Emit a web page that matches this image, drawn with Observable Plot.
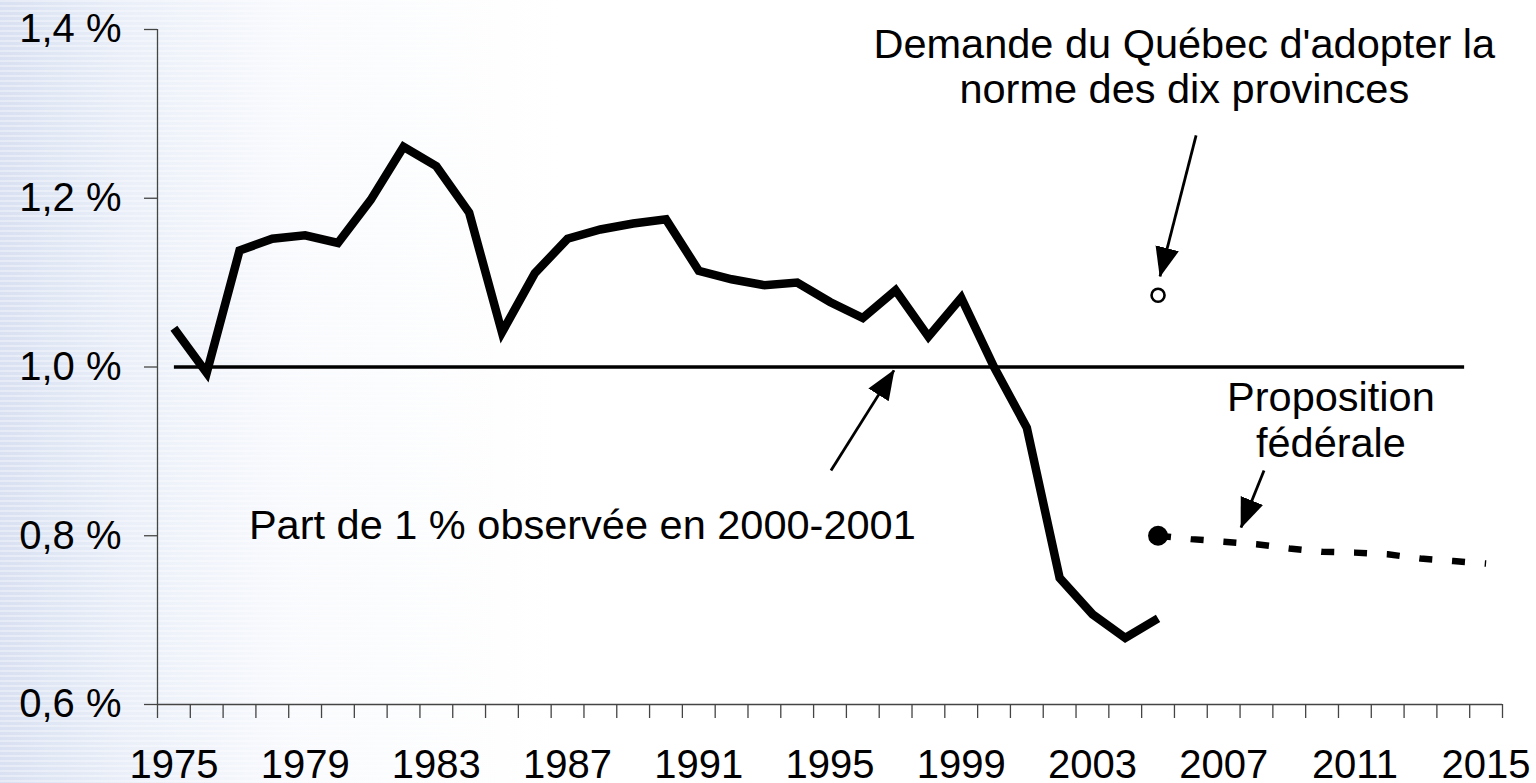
<!DOCTYPE html>
<html lang="fr">
<head>
<meta charset="utf-8">
<script src="https://cdn.jsdelivr.net/npm/d3@7"></script>
<script src="https://cdn.jsdelivr.net/npm/@observablehq/plot@0.6"></script>
<style>
  html, body { margin: 0; padding: 0; width: 1536px; height: 783px; overflow: hidden; }
  body {
    font-family: "Liberation Sans", Arial, sans-serif;
    background:
      repeating-linear-gradient(to bottom, rgba(255,255,255,0.35) 0px, rgba(255,255,255,0.35) 2px, rgba(255,255,255,0) 2px, rgba(255,255,255,0) 5px),
      linear-gradient(to right, rgba(212,221,240,0.9) 0px, rgba(226,233,246,0.75) 120px, rgba(242,245,251,0.45) 300px, rgba(255,255,255,0) 560px),
      linear-gradient(to bottom, #ffffff 0%, #ffffff 100%);
  }
  #chart svg { display: block; }
</style>
</head>
<body>
<div id="chart"></div>
<script>
// ---- Data ----
const years = d3.range(1975, 2006); // 1975..2005
const share = [1.046, 0.993, 1.138, 1.152, 1.156, 1.147, 1.198, 1.261, 1.238, 1.183,
               1.041, 1.111, 1.152, 1.163, 1.170, 1.175, 1.114, 1.104, 1.097, 1.100,
               1.077, 1.058, 1.091, 1.036, 1.082, 1.000, 0.928, 0.750, 0.707, 0.679,
               0.702];

const fedYears = d3.range(2005, 2016); // federal proposal projection
const fedShare = [0.800, 0.796, 0.793, 0.790, 0.785, 0.781, 0.780, 0.778, 0.773, 0.770, 0.767];

const quebecYear = [2005];
const quebecShare = [1.085];

const refYears = [1975, 2014.33];
const refShare = [1.0, 1.0];

const yTicks = [0.6, 0.8, 1.0, 1.2, 1.4];
const xLabelYears = [1975, 1979, 1983, 1987, 1991, 1995, 1999, 2003, 2007, 2011, 2015];

const noteTexts = ["Demande du Québec d'adopter la\nnorme des dix provinces", "Proposition\nfédérale", "Part de 1 % observée en 2000-2001"];
const noteX = [2005.8, 2010.27, 1987.45];
const noteY = [1.405, 0.986, 0.834];

const arrowX1 = [2006.16, 2008.23, 1995.03];
const arrowY1 = [1.2746, 0.8774, 0.8774];
const arrowX2 = [2005.06, 2007.53, 1996.95];
const arrowY2 = [1.1074, 0.8098, 0.996];

// ---- Tables built from the arrays ----
const mainData = years.map((y, i) => ({year: y, v: share[i]}));
const fedData = fedYears.map((y, i) => ({year: y, v: fedShare[i]}));
const quebecData = quebecYear.map((y, i) => ({year: y, v: quebecShare[i]}));
const refData = refYears.map((y, i) => ({year: y, v: refShare[i]}));
const notes = noteTexts.map((t, i) => ({t, x: noteX[i], y: noteY[i]}));
const arrows = arrowX1.map((x, i) => ({x1: x, y1: arrowY1[i], x2: arrowX2[i], y2: arrowY2[i]}));
const minorTicks = d3.range(1974.5, 2016, 1);

const fmt = v => v.toFixed(1).replace(".", ",") + " %";
const FONT = "'Liberation Sans', Arial, sans-serif";

const plot = Plot.plot({
  width: 1536,
  height: 783,
  marginLeft: 157,
  marginRight: 34,
  marginTop: 29,
  marginBottom: 79,
  style: {background: "transparent", fontFamily: FONT, color: "#000", overflow: "visible"},
  x: {type: "linear", domain: [1974.5, 2015.5]},
  y: {domain: [0.6, 1.4]},
  marks: [
    // axes lines
    Plot.ruleX([1974.5], {stroke: "#444", strokeWidth: 1.3}),
    Plot.ruleY([0.6], {stroke: "#444", strokeWidth: 1.3}),
    Plot.axisY({ticks: yTicks, tickFormat: fmt, tickSize: 13, tickPadding: 23, fontSize: 40, stroke: "#444", strokeWidth: 1.3, label: null}),
    Plot.axisX({ticks: minorTicks, tickFormat: () => "", tickSize: 14, stroke: "#444", strokeWidth: 1.3, label: null}),
    Plot.axisX({ticks: xLabelYears, tickFormat: d => String(d), tickSize: 0, tickPadding: 45, fontSize: 40, label: null}),
    // 1 % reference line
    Plot.line(refData, {x: "year", y: "v", stroke: "#000", strokeWidth: 3.5, strokeLinecap: "butt"}),
    // observed share
    Plot.line(mainData, {x: "year", y: "v", stroke: "#000", strokeWidth: 8.5, strokeLinejoin: "miter", strokeMiterlimit: 10, strokeLinecap: "butt"}),
    // federal proposal projection
    Plot.line(fedData, {x: "year", y: "v", stroke: "#000", strokeWidth: 6.5, strokeDasharray: "13,19.8", strokeLinecap: "butt"}),
    Plot.dot([fedData[0]], {x: "year", y: "v", r: 10, fill: "#000", stroke: "none"}),
    // Quebec demand
    Plot.dot(quebecData, {x: "year", y: "v", r: 6.5, fill: "#fff", stroke: "#000", strokeWidth: 2.6}),
    // annotation arrows
    Plot.link(arrows, {x1: "x1", y1: "y1", x2: "x2", y2: "y2", stroke: "#000", strokeWidth: 2.8, ariaLabel: "annot-arrow"}),
    // annotation texts
    Plot.text(notes, {x: "x", y: "y", text: "t", fontSize: 41.5, lineHeight: 1.1, lineAnchor: "top", textAnchor: "middle", fill: "#000", fontFamily: FONT})
  ]
});

document.getElementById("chart").appendChild(plot);

// filled arrowheads on annotation arrows
const svg = d3.select(plot);
const defs = svg.insert("defs", ":first-child");
defs.append("marker")
  .attr("id", "annot-head")
  .attr("markerUnits", "userSpaceOnUse")
  .attr("viewBox", "0 -13 30 26")
  .attr("markerWidth", 30)
  .attr("markerHeight", 26)
  .attr("refX", 29)
  .attr("refY", 0)
  .attr("orient", "auto")
  .append("path")
  .attr("d", "M0,-12L30,0L0,12Z")
  .attr("fill", "#000");
svg.selectAll('g[aria-label="link"] path, path[aria-label="annot-arrow"], g[aria-label="annot-arrow"] path')
  .attr("marker-end", "url(#annot-head)");
</script>
</body>
</html>
